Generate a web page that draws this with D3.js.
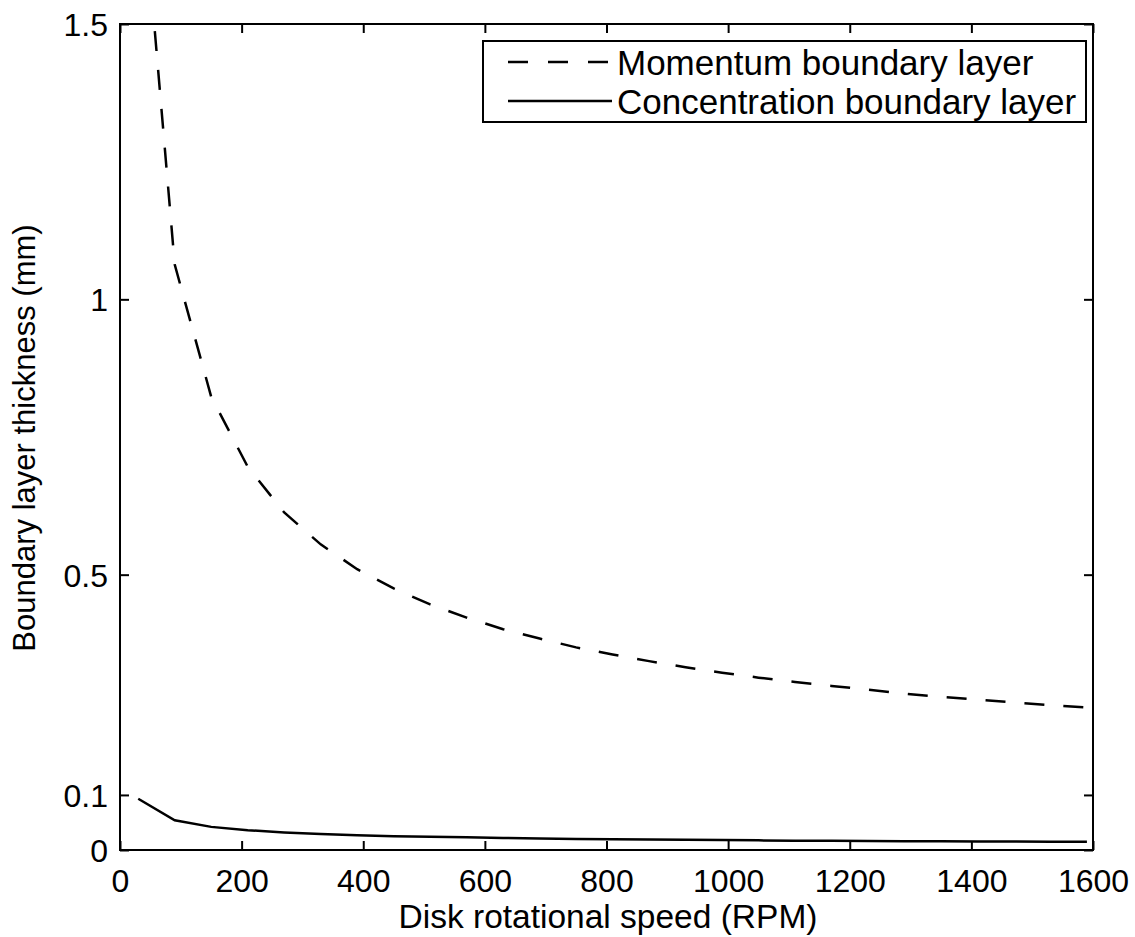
<!DOCTYPE html>
<html>
<head>
<meta charset="utf-8">
<script src="https://cdn.jsdelivr.net/npm/d3@7"></script>
<style>
  html, body { margin: 0; padding: 0; background: #fff; }
  svg { display: block; }
  text { font-family: "Liberation Sans", Arial, Helvetica, sans-serif; fill: #000; }
</style>
</head>
<body>
<svg id="chart" width="1135" height="937"></svg>
<script>
// Disk rotational speed (RPM) at which the boundary layers were evaluated
const rpm = [30, 90, 150, 210, 270, 330, 390, 450, 510, 570, 630, 690, 750, 810,
             870, 930, 990, 1050, 1110, 1170, 1230, 1290, 1350, 1410, 1470, 1530, 1590];

// Momentum boundary layer thickness (mm)
const momentum = [1.840, 1.063, 0.823, 0.696, 0.613, 0.555, 0.510, 0.475, 0.446, 0.422,
                  0.401, 0.384, 0.368, 0.355, 0.343, 0.332, 0.322, 0.313, 0.305, 0.298,
                  0.291, 0.284, 0.278, 0.273, 0.268, 0.263, 0.259];

// Concentration boundary layer thickness (mm)
const concentration = [0.093, 0.054, 0.042, 0.036, 0.032, 0.029, 0.027, 0.025, 0.024, 0.023,
                       0.022, 0.021, 0.020, 0.0195, 0.019, 0.0185, 0.018, 0.0175, 0.017, 0.0167,
                       0.0164, 0.0161, 0.0158, 0.0155, 0.0153, 0.0151, 0.0149];

const xTicks = [0, 200, 400, 600, 800, 1000, 1200, 1400, 1600];
const yTicks = [0, 0.1, 0.5, 1, 1.5];
const yTickLabels = ["0", "0.1", "0.5", "1", "1.5"];

const seriesNames = ["Momentum boundary layer", "Concentration boundary layer"];
const xTitle = "Disk rotational speed (RPM)";
const yTitle = "Boundary layer thickness (mm)";

const svg = d3.select("#chart");
const plotL = 120, plotR = 1093, plotT = 24, plotB = 850;

const x = d3.scaleLinear().domain([0, 1600]).range([plotL, plotR]);
const y = d3.scaleLinear().domain([0, 1.5]).range([plotB, plotT]);

svg.append("defs").append("clipPath").attr("id", "plotClip")
  .append("rect").attr("x", plotL).attr("y", plotT)
  .attr("width", plotR - plotL).attr("height", plotB - plotT);

const fontSize = 32;
const tickLen = 9;
const lineW = 2.5;

// Data lines
const line = d3.line().x(d => x(d[0])).y(d => y(d[1]));
const plot = svg.append("g").attr("clip-path", "url(#plotClip)");

plot.append("path")
  .datum(rpm.map((r, i) => [r, momentum[i]]))
  .attr("d", line)
  .attr("fill", "none").attr("stroke", "#000")
  .attr("stroke-width", lineW)
  .attr("stroke-dasharray", "20,19");

plot.append("path")
  .datum(rpm.map((r, i) => [r, concentration[i]]))
  .attr("d", line)
  .attr("fill", "none").attr("stroke", "#000")
  .attr("stroke-width", lineW);

// Axes with inward ticks on all four sides
const axisStyle = g => {
  g.select(".domain").remove();
  g.selectAll(".tick line").attr("stroke", "#000").attr("stroke-width", 2);
};

svg.append("g").attr("transform", `translate(0,${plotB})`)
  .call(d3.axisBottom(x).tickValues(xTicks).tickSizeInner(-tickLen).tickSizeOuter(0)
    .tickFormat(d3.format("d")))
  .call(axisStyle)
  .call(g => g.selectAll(".tick text")
    .attr("font-size", fontSize).attr("font-family", null).attr("dy", null)
    .attr("y", 42));

svg.append("g").attr("transform", `translate(0,${plotT})`)
  .call(d3.axisTop(x).tickValues(xTicks).tickSizeInner(-tickLen).tickSizeOuter(0).tickFormat(""))
  .call(axisStyle);

svg.append("g").attr("transform", `translate(${plotL},0)`)
  .call(d3.axisLeft(y).tickValues(yTicks).tickSizeInner(-tickLen).tickSizeOuter(0)
    .tickFormat((d, i) => yTickLabels[i]))
  .call(axisStyle)
  .call(g => g.selectAll(".tick text")
    .attr("font-size", fontSize).attr("font-family", null)
    .attr("x", -12).attr("dy", "0.36em"));

svg.append("g").attr("transform", `translate(${plotR},0)`)
  .call(d3.axisRight(y).tickValues(yTicks).tickSizeInner(-tickLen).tickSizeOuter(0).tickFormat(""))
  .call(axisStyle);

// Plot frame
svg.append("rect")
  .attr("x", plotL).attr("y", plotT)
  .attr("width", plotR - plotL).attr("height", plotB - plotT)
  .attr("fill", "none").attr("stroke", "#000").attr("stroke-width", 2);

// Axis titles
svg.append("text")
  .attr("x", 608).attr("y", 928)
  .attr("text-anchor", "middle").attr("font-size", 33.5)
  .text(xTitle);

svg.append("text")
  .attr("transform", `translate(35,${(plotT + plotB) / 2 + 1}) rotate(-90)`)
  .attr("text-anchor", "middle").attr("font-size", 31)
  .text(yTitle);

// Legend
const lg = svg.append("g");
lg.append("rect")
  .attr("x", 483).attr("y", 41).attr("width", 603).attr("height", 81)
  .attr("fill", "#fff").attr("stroke", "#000").attr("stroke-width", 2);

const legendRows = [
  { name: seriesNames[0], dash: "20,20", yy: 62 },
  { name: seriesNames[1], dash: null, yy: 101 }
];
legendRows.forEach(r => {
  lg.append("line")
    .attr("x1", 508).attr("x2", 612).attr("y1", r.yy).attr("y2", r.yy)
    .attr("stroke", "#000").attr("stroke-width", lineW)
    .attr("stroke-dasharray", r.dash);
  lg.append("text")
    .attr("x", 617).attr("y", r.yy).attr("dy", "0.36em")
    .attr("font-size", 35)
    .text(r.name);
});
</script>
</body>
</html>
